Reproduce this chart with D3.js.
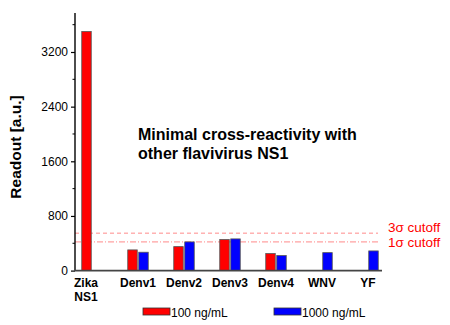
<!DOCTYPE html>
<html><head><meta charset="utf-8">
<script src="https://cdn.jsdelivr.net/npm/d3@7"></script>
<style>body{margin:0;background:#fff}svg{display:block;font-family:"Liberation Sans",Arial,sans-serif}</style>
</head><body><svg id="c" width="450" height="325"></svg>
<script>
const categories = ["Zika NS1","Denv1","Denv2","Denv3","Denv4","WNV","YF"];
const series = ["100 ng/mL","1000 ng/mL"];
const low = [3500, 303, 351, 454, 249, null, null];
const high = [null, 269, 420, 464, 220, 263, 288];
const cutoffs = [{label:"3σ cutoff", value:548, dash:"4,3"}, {label:"1σ cutoff", value:420, dash:"6,2,1,2"}];
const yTicks = [0, 800, 1600, 2400, 3200];
const yMinor = [400, 1200, 2000, 2800, 3600];
const colors = ["#ff0000", "#0000ff"];

const svg = d3.select("#c");
const x0 = 75, x1 = 382, yBase = 270.6, yTop = 13;
const x = d3.scaleBand().domain(categories).range([69, 391]).paddingInner(0).paddingOuter(0);
const y = d3.scaleLinear().domain([0, 3200]).range([yBase, 52]);

// cutoff lines
cutoffs.forEach(c => {
  svg.append("line").attr("x1", x0).attr("x2", 378).attr("y1", y(c.value)).attr("y2", y(c.value))
    .attr("stroke", "#ff8a8a").attr("stroke-width", 1).attr("stroke-dasharray", c.dash);
});
svg.append("text").attr("x", 388).attr("y", y(548)-1.5).attr("fill", "#ff0000").attr("font-size", 13.5).text(cutoffs[0].label);
svg.append("text").attr("x", 388).attr("y", y(420)+5).attr("fill", "#ff0000").attr("font-size", 13.5).text(cutoffs[1].label);

// bars
const bw = 9.5, gap = 1.5;
[low, high].forEach((vals, si) => {
  svg.append("g").selectAll("rect").data(categories.map((c, i) => ({c, v: vals[i]})).filter(d => d.v != null))
    .join("rect")
    .attr("x", d => x(d.c) + x.bandwidth()/2 + (si === 0 ? -gap/2 - bw : gap/2))
    .attr("y", d => y(d.v)).attr("width", bw).attr("height", d => yBase - y(d.v))
    .attr("fill", colors[si]).attr("stroke", "#555").attr("stroke-width", 0.8);
});

// y axis
const ax = svg.append("g").attr("transform", `translate(${x0},0)`)
  .call(d3.axisLeft(y).tickValues(yTicks).tickFormat(d3.format("d")).tickSize(4).tickSizeOuter(0).tickPadding(3));
ax.select(".domain").remove();
ax.selectAll("text").attr("font-size", 12).attr("font-family", "'Liberation Sans', Arial, sans-serif").attr("fill", "#000");
ax.selectAll("line").attr("stroke", "#000").attr("stroke-width", 1.2);
svg.append("g").selectAll("line").data(yMinor).join("line")
  .attr("x1", x0-2.5).attr("x2", x0).attr("y1", d => y(d)).attr("y2", d => y(d)).attr("stroke", "#000").attr("stroke-width", 1);
svg.append("line").attr("x1", x0).attr("x2", x0).attr("y1", yTop).attr("y2", yBase).attr("stroke", "#000").attr("stroke-width", 1.4);
svg.append("line").attr("x1", x0-0.7).attr("x2", x1).attr("y1", yBase).attr("y2", yBase).attr("stroke", "#444").attr("stroke-width", 1.8);

// x labels
categories.forEach(c => {
  const parts = c.split(" ");
  const cx = x(c) + x.bandwidth()/2 + (c === "Zika NS1" ? -6 : 0);
  const t = svg.append("text").attr("text-anchor", "middle").attr("font-size", 12).attr("font-weight", "bold").attr("fill", "#000");
  parts.forEach((p, i) => t.append("tspan").attr("x", cx).attr("y", 287 + i*14).text(p));
});

// y title
svg.append("text").attr("transform", "translate(21,147) rotate(-90)").attr("text-anchor", "middle")
  .attr("font-size", 15.5).attr("font-weight", "bold").text("Readout [a.u.]");

// annotation
svg.append("text").attr("x", 138).attr("y", 140).attr("font-size", 16).attr("font-weight", "bold").text("Minimal cross-reactivity with");
svg.append("text").attr("x", 138).attr("y", 158.5).attr("font-size", 16).attr("font-weight", "bold").text("other flavivirus NS1");

// legend
const lx = [143, 274];
series.forEach((s, i) => {
  svg.append("rect").attr("x", lx[i]).attr("y", 308).attr("width", 27).attr("height", 7).attr("fill", colors[i]).attr("stroke", "#333").attr("stroke-width", 0.8);
  svg.append("text").attr("x", lx[i] + 28).attr("y", 316.5).attr("font-size", 12).text(s);
});
</script></body></html>
